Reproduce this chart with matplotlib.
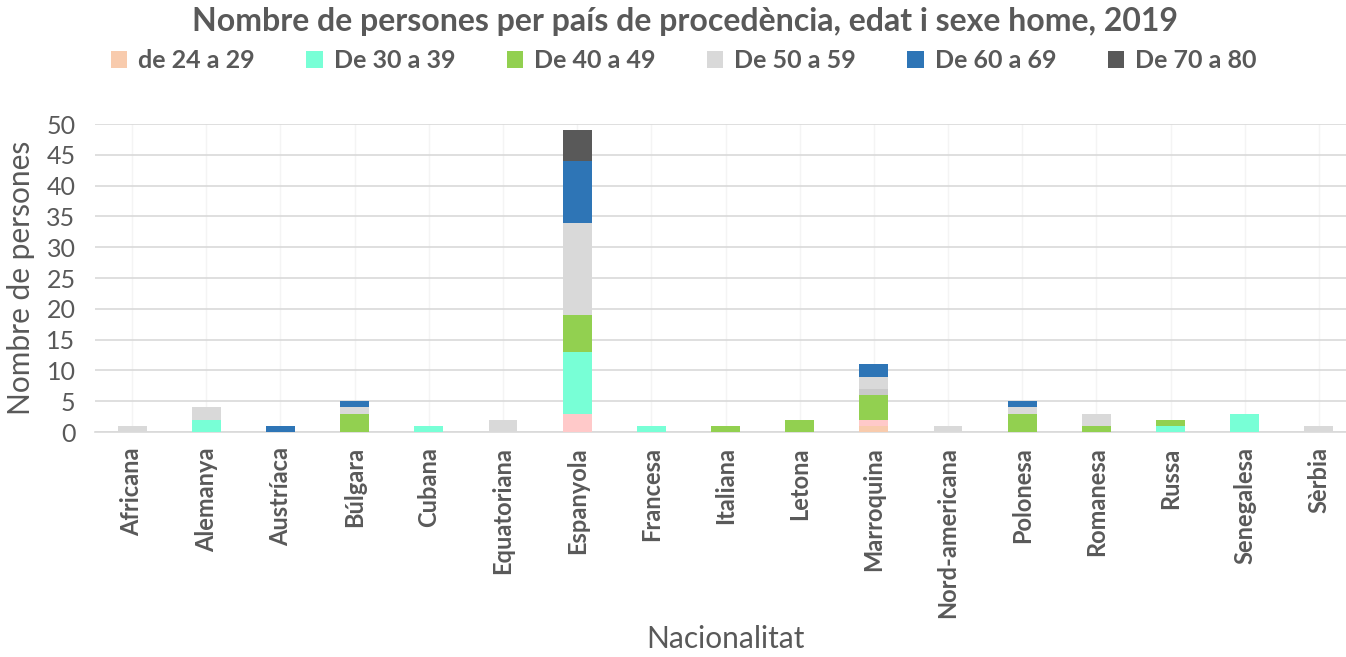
import numpy as np
import matplotlib
matplotlib.use("Agg")
import matplotlib.pyplot as plt

plt.rcParams['font.family'] = ['Lato', 'DejaVu Sans']

categories = ['Africana', 'Alemanya', 'Austríaca', 'Búlgara', 'Cubana', 'Equatoriana',
              'Espanyola', 'Francesa', 'Italiana', 'Letona', 'Marroquina', 'Nord-americana',
              'Polonesa', 'Romanesa', 'Russa', 'Senegalesa', 'Sèrbia']

# series in stacking order (bottom -> top)
de_24_29 = [0, 0, 0, 0, 0, 0, 0, 0, 0, 0, 1, 0, 0, 0, 0, 0, 0]
de_18_23 = [0, 0, 0, 0, 0, 0, 3, 0, 0, 0, 1, 0, 0, 0, 0, 0, 0]   # not in legend
de_30_39 = [0, 2, 0, 0, 1, 0, 10, 1, 0, 0, 0, 0, 0, 0, 1, 3, 0]
de_40_49 = [0, 0, 0, 3, 0, 0, 6, 0, 1, 2, 4, 0, 3, 1, 1, 0, 0]
de_50_54 = [0, 0, 0, 0, 0, 0, 0, 0, 0, 0, 1, 0, 0, 0, 0, 0, 0]   # not in legend
de_50_59 = [1, 2, 0, 1, 0, 2, 15, 0, 0, 0, 2, 1, 1, 2, 0, 0, 1]
de_60_69 = [0, 0, 1, 1, 0, 0, 10, 0, 0, 0, 2, 0, 1, 0, 0, 0, 0]
de_70_80 = [0, 0, 0, 0, 0, 0, 5, 0, 0, 0, 0, 0, 0, 0, 0, 0, 0]

series = [
    ('de 24 a 29', de_24_29, '#F8CBAD'),
    ('_hidden1', de_18_23, '#FFC9C9'),
    ('De 30 a 39', de_30_39, '#78FFD6'),
    ('De 40 a 49', de_40_49, '#92D050'),
    ('_hidden2', de_50_54, '#C9C9C9'),
    ('De 50 a 59', de_50_59, '#D9D9D9'),
    ('De 60 a 69', de_60_69, '#2E75B6'),
    ('De 70 a 80', de_70_80, '#595959'),
]

txt = '#595959'
fig = plt.figure(figsize=(13.46, 6.57), dpi=100)
W, H = 1346, 657
ax = fig.add_axes([95 / W, 1 - 432 / H, (1356 - 95) / W, (432 - 124) / H])

x = np.arange(len(categories))
bottom = np.zeros(len(categories))
handles = []
for label, vals, color in series:
    vals = np.array(vals, dtype=float)
    b = ax.bar(x, vals, bottom=bottom, width=0.39, color=color, label=label, zorder=3)
    if not label.startswith('_'):
        handles.append(b)
    bottom += vals

ax.set_xlim(-0.5, len(categories) - 0.5)
ax.set_ylim(0, 50)
ax.set_yticks(range(0, 51, 5))
ax.yaxis.grid(True, color='#D9D9D9', linewidth=1.2, zorder=0)
ax.xaxis.grid(True, color='#F4F4F4', linewidth=1, zorder=0)
for s in ['top', 'right', 'left']:
    ax.spines[s].set_visible(False)
ax.spines['bottom'].set_color('#D9D9D9')
ax.spines['bottom'].set_linewidth(1.2)
ax.tick_params(axis='both', length=0, colors=txt)
ax.tick_params(axis='y', labelsize=18, pad=14)
ax.set_xticks(x)
ax.set_xticklabels(categories, rotation=90, fontsize=17, fontweight='bold', color=txt)
ax.tick_params(axis='x', pad=11)
for t in ax.get_yticklabels():
    t.set_color(txt)

ax.set_ylabel('Nombre de persones', fontsize=21.5, color=txt, labelpad=8)
ax.set_xlabel('Nacionalitat', fontsize=21.5, color=txt, labelpad=5)

fig.text(0.509, 1 - 22 / H, 'Nombre de persones per país de procedència, edat i sexe home, 2019',
         ha='center', va='center', fontsize=23, fontweight='bold', color=txt)

leg = fig.legend(handles=handles, loc='center', bbox_to_anchor=(0.508, 1 - 61 / H), ncol=6,
                 frameon=False, fontsize=18, handlelength=0.65, handleheight=0.65,
                 handletextpad=0.45, columnspacing=2.05)
for t in leg.get_texts():
    t.set_color(txt)
    t.set_fontweight('bold')

fig.savefig('out.png', dpi=100)
